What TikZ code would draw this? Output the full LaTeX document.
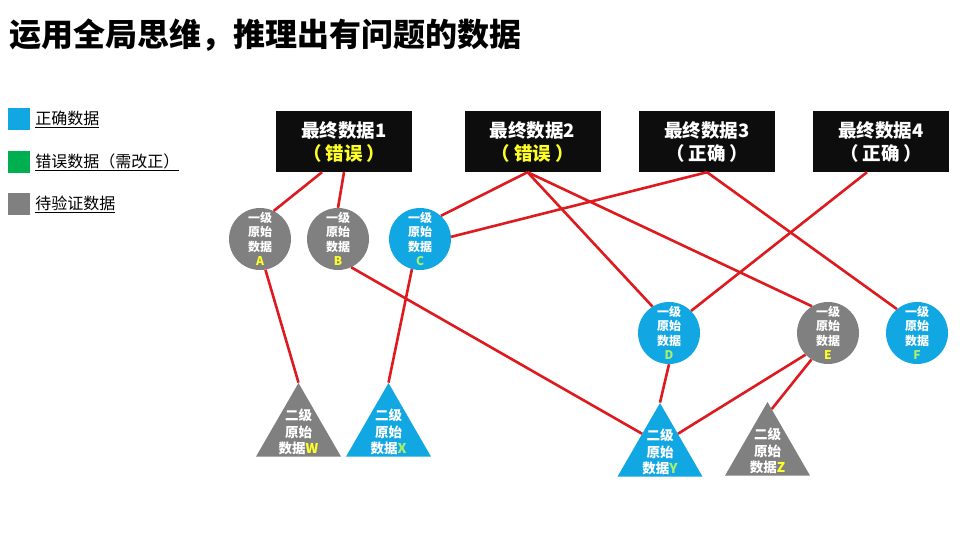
\documentclass[tikz,border=0pt]{standalone}
\usepackage{fontspec}
\setmainfont{Noto Sans CJK SC}
\usetikzlibrary{shapes.geometric,positioning,calc}
\definecolor{okblue}{RGB}{17,167,226}
\definecolor{errgreen}{RGB}{0,176,80}
\definecolor{waitgray}{RGB}{128,128,128}
\definecolor{linkred}{RGB}{222,26,30}
\definecolor{markyellow}{RGB}{255,255,40}
\definecolor{markgreen}{RGB}{170,240,110}
\begin{document}
\begin{tikzpicture}[x=1pt,y=-1pt,
    finalbox/.style={fill=black!95, minimum width=136pt, minimum height=61pt, inner sep=0pt, text=white, align=center, font=\bfseries\fontsize{18.5}{23}\selectfont},
    rawcirc/.style={circle, minimum size=62pt, inner sep=0pt, text=white, align=center, font=\bfseries\fontsize{12}{14.5}\selectfont},
    subtri/.style={regular polygon, regular polygon sides=3, minimum size=98pt, inner sep=0pt},
    subtext/.style={text=white, align=center, inner sep=0pt, font=\bfseries\fontsize{13.5}{16.5}\selectfont},
    legendbox/.style={minimum size=22pt, inner sep=0pt},
    legendtext/.style={right=5pt, inner sep=0pt, font=\fontsize{16}{18}\selectfont},
    link/.style={draw=linkred, line width=2.6pt}]
        \useasboundingbox[fill=white] (0,0) rectangle (960,540);

        % Title
        \node[anchor=west, inner sep=0pt, font=\bfseries\fontsize{32}{36}\selectfont] (title) at (9,35) {运用全局思维，推理出有问题的数据};

        % Legend
        \node[legendbox, fill=okblue] (keyok) at (19,119) {};
        \node[legendtext] (keyoktext) at (keyok.east) {\underline{正确数据}};
        \node[legendbox, fill=errgreen] (keyerr) at (19,162) {};
        \node[legendtext] (keyerrtext) at (keyerr.east) {\underline{错误数据（需改正）}};
        \node[legendbox, fill=waitgray] (keywait) at (19,204) {};
        \node[legendtext] (keywaittext) at (keywait.east) {\underline{待验证数据}};

        % Final data
        \node[finalbox] (fin1) at (344,141.5) {最终数据1\\\textcolor{markyellow}{（\hspace{4pt}错误\hspace{4pt}）}};
        \node[finalbox] (fin2) at (532.5,141.5) {最终数据2\\\textcolor{markyellow}{（\hspace{4pt}错误\hspace{4pt}）}};
        \node[finalbox] (fin3) at (707,141.5) {最终数据3\\（\hspace{4pt}正确\hspace{4pt}）};
        \node[finalbox] (fin4) at (881,141.5) {最终数据4\\（\hspace{4pt}正确\hspace{4pt}）};

        % First level raw data
        \node[rawcirc, fill=waitgray] (rawA) at (260,239) {一级\\原始\\数据\\\textcolor{markyellow}{A}};
        \node[rawcirc, fill=waitgray] (rawB) at (338,239) {一级\\原始\\数据\\\textcolor{markyellow}{B}};
        \node[rawcirc, fill=okblue] (rawC) at (420,239) {一级\\原始\\数据\\\textcolor{markgreen}{C}};
        \node[rawcirc, fill=okblue] (rawD) at (669,333) {一级\\原始\\数据\\\textcolor{markgreen}{D}};
        \node[rawcirc, fill=waitgray] (rawE) at (828,333) {一级\\原始\\数据\\\textcolor{markyellow}{E}};
        \node[rawcirc, fill=okblue] (rawF) at (917,333) {一级\\原始\\数据\\\textcolor{markgreen}{F}};

        % Second level raw data
        \node[subtri, fill=waitgray] (subW) at (298.5,432) {};
        \node[subtext] (subWtext) at (subW.center) {二级\\原始\\数据\textcolor{markyellow}{W}};
        \node[subtri, fill=okblue] (subX) at (388.5,432) {};
        \node[subtext] (subXtext) at (subX.center) {二级\\原始\\数据\textcolor{markgreen}{X}};
        \node[subtri, fill=okblue] (subY) at (660,452) {};
        \node[subtext] (subYtext) at (subY.center) {二级\\原始\\数据\textcolor{markgreen}{Y}};
        \node[subtri, fill=waitgray] (subZ) at (767.5,451) {};
        \node[subtext] (subZtext) at (subZ.center) {二级\\原始\\数据\textcolor{markyellow}{Z}};

        % Links from final data
        \draw[link] ([xshift=-22pt]fin1.south) -- (rawA.64);
        \draw[link] (fin1.south) -- (rawB.north);
        \draw[link] ([xshift=-5pt]fin2.south) -- (rawC.48);
        \draw[link] ([xshift=-5pt]fin2.south) -- (rawD.122);
        \draw[link] ([xshift=-5pt]fin2.south) -- (rawE.121);
        \draw[link] (fin3.south) -- (rawC.4);
        \draw[link] (fin3.south) -- (rawF.130);
        \draw[link] ([xshift=-14pt]fin4.south) -- (rawD.45);

        % Links to second level
        \draw[link] (rawA.-80) -- (subW.corner 1);
        \draw[link] (rawC.-105) -- (subX.corner 1);
        \draw[link] (rawB.-65) -- ($(subY.corner 1)!0.42!(subY.corner 2)$);
        \draw[link] (rawD.south) -- (subY.corner 1);
        \draw[link] (rawE.224) -- ($(subY.corner 1)!0.42!(subY.corner 3)$);
        \draw[link] (rawE.238) -- ($(subZ.corner 1)!0.1!(subZ.corner 3)$);
    \end{tikzpicture}
\end{document}
